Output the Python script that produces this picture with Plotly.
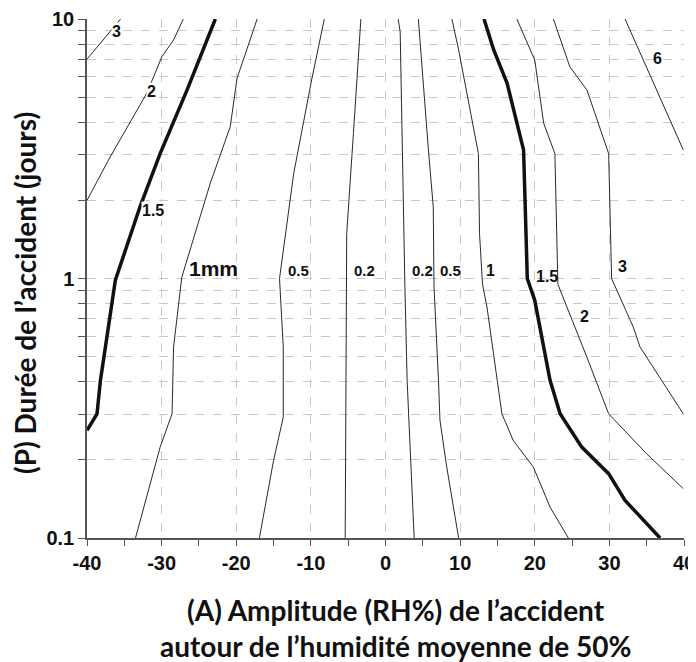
import math
import plotly.graph_objects as go

# ---- contour polylines (x = amplitude RH%, y = duration in days) ----
c3L_x = [-40, -35.5]
c3L_y = [7.0, 10]
c2L_x = [-40, -36.9, -32.0, -29.95, -28.4, -27.1]
c2L_y = [2.0, 2.94, 5.17, 7.17, 8.3, 10]
c15L_x = [-40, -38.66, -38.2, -36.2, -32.9, -30.2, -26.6, -22.8]
c15L_y = [0.26, 0.301, 0.405, 0.985, 1.89, 3.03, 5.32, 10]
c1L_x = [-33.5, -30.2, -28.6, -28.4, -27.3, -23.5, -20.8, -19.9, -17.2]
c1L_y = [0.1, 0.224, 0.301, 0.545, 1.01, 2.32, 3.85, 5.9, 10]
c05L_x = [-16.9, -15.0, -13.7, -13.7, -14.2, -12.3, -9.9, -8.2]
c05L_y = [0.1, 0.199, 0.292, 0.545, 1.0, 2.54, 5.82, 10]
c02L_x = [-5.4, -5.2, -5.2, -4.3, -3.3]
c02L_y = [0.1, 1.0, 1.49, 3.62, 10]
c02R_x = [3.84, 3.3, 2.9, 2.6, 2.2, 1.97, 1.7]
c02R_y = [0.1, 0.224, 0.405, 0.93, 3.62, 8.9, 10]
c05R_x = [9.8, 8.2, 7.3, 7.1, 6.5, 6.4, 5.75, 4.9, 4.4]
c05R_y = [0.1, 0.188, 0.284, 0.405, 0.93, 1.89, 3.13, 6.55, 10]
c1R_x = [24.5, 22.05, 19.8, 17.1, 15.6, 13.6, 13.0, 12.6, 12.45, 10.9, 9.8, 8.9]
c1R_y = [0.1, 0.1316, 0.188, 0.238, 0.301, 0.776, 0.95, 1.49, 3.03, 5.17, 7.6, 10]
c15R_x = [36.8, 32.1, 29.9, 26.3, 23.4, 22.05, 20.0, 19.0, 18.7, 18.5, 16.3, 14.5, 13.2]
c15R_y = [0.1, 0.1396, 0.177, 0.224, 0.301, 0.405, 0.824, 1.0, 2.0, 3.13, 5.65, 7.6, 10]
c2R_x = [39.9, 35.0, 29.9, 26.97, 23.1, 22.7, 21.2, 20.0, 17.6]
c2R_y = [0.155, 0.211, 0.301, 0.499, 0.95, 3.03, 3.96, 6.95, 10]
c3R_x = [39.9, 34.1, 33.2, 30.3, 29.9, 27.0, 24.7, 22.5]
c3R_y = [0.301, 0.545, 0.65, 1.0, 3.03, 5.32, 6.55, 10]
c6_x = [39.9, 32.1]
c6_y = [3.13, 10]

# ---- contour labels ----
label_text = ["3", "2", "1.5", "1mm", "0.5", "0.2", "0.2", "0.5", "1", "1.5", "3", "2", "6"]
label_x = [-36.1, -31.35, -31.15, -23.0, -11.6, -2.85, 5.0, 8.65, 14.1, 21.6, 31.7, 26.7, 36.5]
label_y = [8.93, 5.25, 1.83, 1.093, 1.077, 1.077, 1.077, 1.077, 1.077, 1.014, 1.11, 0.711, 7.05]
label_size = [16, 16, 16, 21, 15, 15, 15, 15, 16, 16, 16, 16, 16]
label_bg = [True, True, True, False, False, False, False, False, False, False, False, False, False]

# ---- axes ----
x_ticks = [-40, -30, -20, -10, 0, 10, 20, 30, 40]
y_tickvals = [0.1, 0.2, 0.3, 0.4, 0.5, 0.6, 0.7, 0.8, 0.9,
              1, 2, 3, 4, 5, 6, 7, 8, 9, 10]
y_ticktext = ["0.1"] + [""] * 8 + ["1"] + [""] * 8 + ["10"]

x_title_1 = "(A) Amplitude (RH%) de l\u2019accident"
x_title_2 = "autour de l\u2019humidit\u00e9 moyenne de 50%"
y_title = "(P) Dur\u00e9e de l\u2019accident (jours)"

thin = [(c3L_x, c3L_y), (c2L_x, c2L_y), (c1L_x, c1L_y), (c05L_x, c05L_y),
        (c02L_x, c02L_y), (c02R_x, c02R_y), (c05R_x, c05R_y), (c1R_x, c1R_y),
        (c2R_x, c2R_y), (c3R_x, c3R_y), (c6_x, c6_y)]
bold = [(c15L_x, c15L_y), (c15R_x, c15R_y)]

fig = go.Figure()
for xs, ys in thin:
    fig.add_trace(go.Scatter(x=xs, y=ys, mode="lines",
                             line=dict(color="#2a2a2a", width=1), hoverinfo="skip"))
for xs, ys in bold:
    fig.add_trace(go.Scatter(x=xs, y=ys, mode="lines",
                             line=dict(color="#111111", width=3.5), hoverinfo="skip"))

for t, x, y, s, bg in zip(label_text, label_x, label_y, label_size, label_bg):
    fig.add_annotation(x=x, y=math.log10(y), text="<b>" + t + "</b>", showarrow=False,
                       font=dict(family="Liberation Sans", size=s, color="#111"),
                       bgcolor="white" if bg else "rgba(0,0,0,0)", borderpad=0)

# plot area in page pixels: left 87, right 684, top 19, bottom 538 (597 x 519)
title_font = dict(family="Lato", size=28, color="#111")
fig.add_annotation(xref="paper", yref="paper", x=0.5176, y=-0.1387, yanchor="middle",
                   text="<b>" + x_title_1 + "</b>", showarrow=False, font=title_font)
fig.add_annotation(xref="paper", yref="paper", x=0.5176, y=-0.2075, yanchor="middle",
                   text="<b>" + x_title_2 + "</b>", showarrow=False, font=title_font)
fig.add_annotation(xref="paper", yref="paper", x=-0.1039, y=0.472, textangle=-90,
                   xanchor="center", yanchor="middle",
                   text="<b>" + y_title + "</b>", showarrow=False, font=title_font)

tick_font = dict(family="Liberation Sans", size=20, color="#111")
fig.update_xaxes(range=[-40, 40], tickvals=x_ticks,
                 ticktext=["<b>%d</b>" % v for v in x_ticks],
                 tickfont=tick_font, showline=True, linecolor="#555", linewidth=1.5,
                 ticks="outside", ticklen=6, tickcolor="#555",
                 showgrid=True, gridcolor="#c8c8c8", griddash="dash", gridwidth=1,
                 minor=dict(dtick=5, tick0=-40, ticks="outside", ticklen=6,
                            tickcolor="#555", showgrid=False),
                 zeroline=False, automargin=False)
fig.update_yaxes(type="log", range=[-1, 1], tickvals=y_tickvals,
                 ticktext=["<b>%s</b>" % t if t else "" for t in y_ticktext],
                 tickfont=tick_font, showline=True, linecolor="#555", linewidth=1.5,
                 ticks="outside", ticklen=7, tickcolor="#555",
                 showgrid=True, gridcolor="#c8c8c8", griddash="dash", gridwidth=1,
                 zeroline=False, automargin=False)

# the page body adds an 8px offset, so the figure is 8px smaller on each side
fig.update_layout(width=688, height=654, showlegend=False,
                  margin=dict(l=79, r=12, t=11, b=124, autoexpand=False),
                  paper_bgcolor="white", plot_bgcolor="white")

fig.write_html("out.html")
